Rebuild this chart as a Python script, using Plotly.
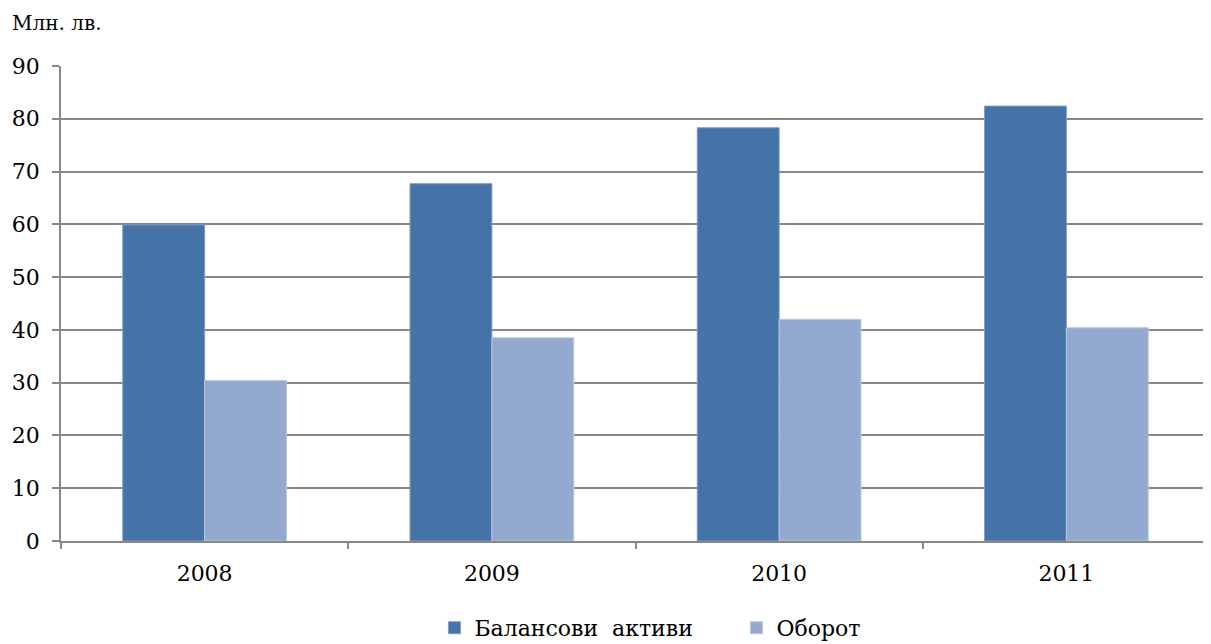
import plotly.graph_objects as go

years = ["2008", "2009", "2010", "2011"]
assets = [59.9, 67.7, 78.3, 82.4]
turnover = [30.4, 38.5, 42.0, 40.4]
y_ticks = [0, 10, 20, 30, 40, 50, 60, 70, 80, 90]

FONT = "DejaVu Serif"

fig = go.Figure()
fig.add_trace(go.Bar(x=years, y=assets, name="Балансови  активи",
                     marker=dict(color="#4572A7", line=dict(color="#7F9CC6", width=1))))
fig.add_trace(go.Bar(x=years, y=turnover, name="Оборот",
                     marker=dict(color="#94A9CF", line=dict(color="#B9C8E2", width=1))))

fig.update_layout(
    width=1203, height=636,
    margin=dict(l=53, r=1, t=58, b=103, autoexpand=False),
    paper_bgcolor="white", plot_bgcolor="white",
    font=dict(family=FONT, size=22, color="black"),
    barmode="group", bargap=0.43, bargroupgap=0,
    showlegend=True,
    legend=dict(orientation="h", x=0.325, xanchor="left", xref="paper",
                y=-0.183, yref="paper", yanchor="middle",
                font=dict(size=22, family=FONT), itemwidth=30, traceorder="normal",
                entrywidth=257),
    annotations=[dict(text="Млн. лв.", xref="paper", yref="paper", x=-0.044, y=1.06,
                      xanchor="left", yanchor="bottom", showarrow=False,
                      font=dict(size=20, family=FONT))],
)
fig.update_xaxes(showline=True, linecolor="#888888", linewidth=1.5, automargin=False,
                 ticks="outside", tickson="boundaries", ticklen=6, tickcolor="#888888",
                 tickwidth=1.5, showgrid=False, tickfont=dict(size=22, family=FONT),
                 ticklabelstandoff=12)
fig.update_yaxes(range=[0, 90], tickvals=y_ticks, showline=True, linecolor="#888888",
                 linewidth=1.5, ticks="outside", ticklen=7, tickcolor="#888888", tickwidth=1.5,
                 showgrid=True, gridcolor="#888888", gridwidth=1.5, zeroline=False, automargin=False,
                 tickfont=dict(size=22, family=FONT), ticklabelstandoff=8)

fig.write_html("out.html")
